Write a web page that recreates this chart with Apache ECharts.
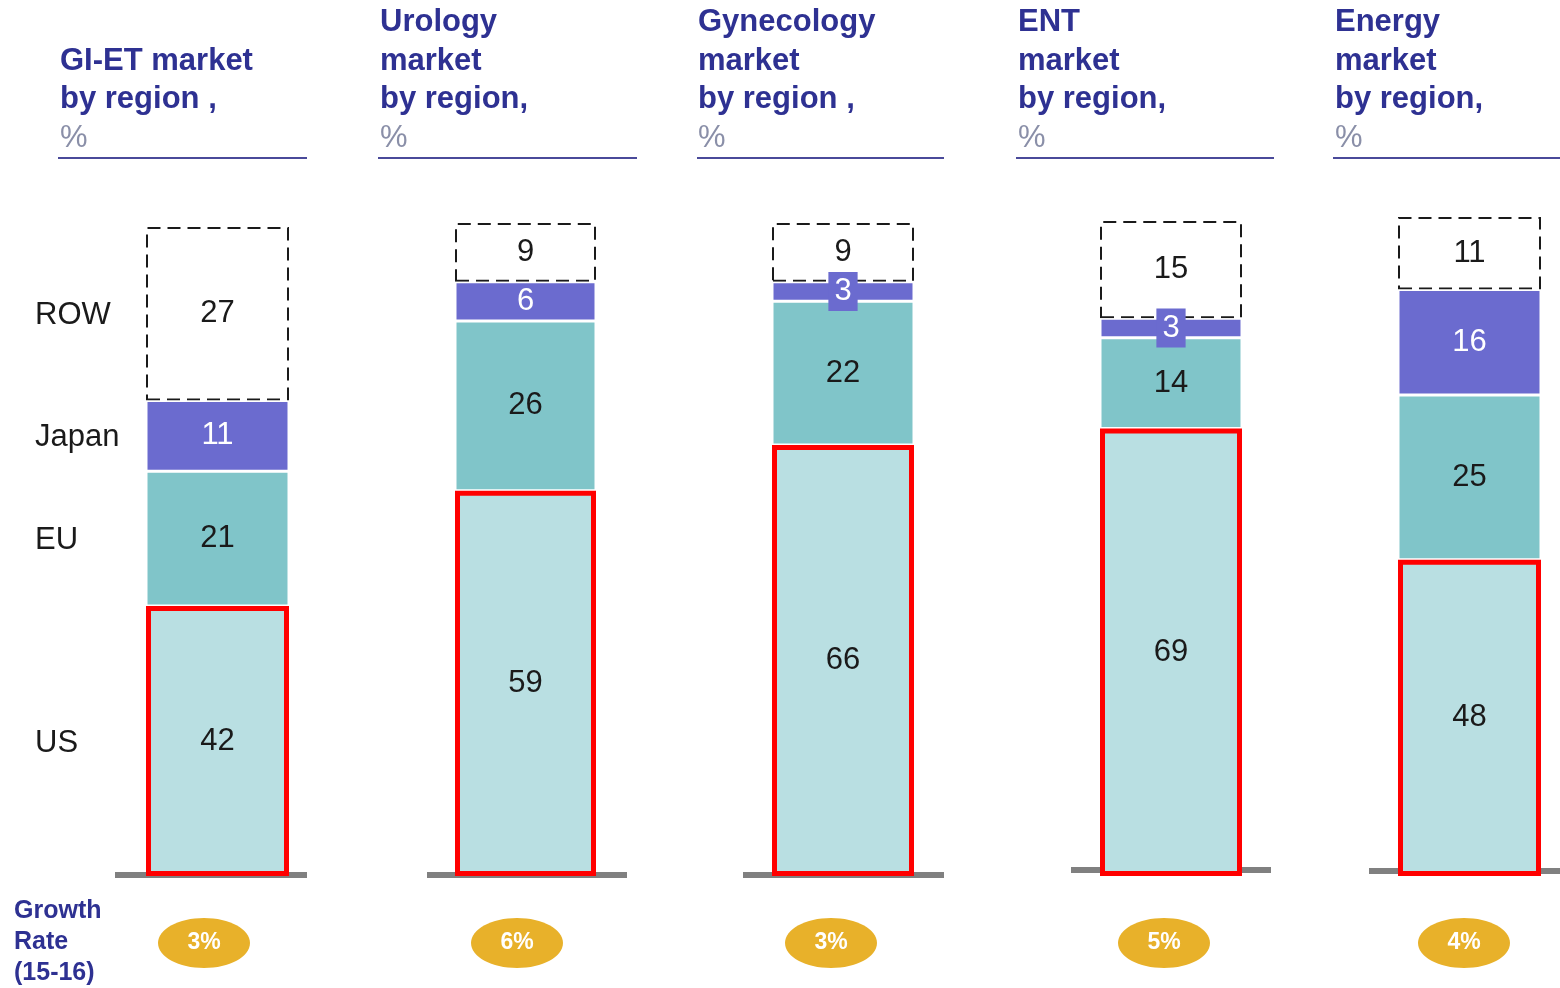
<!DOCTYPE html>
<html>
<head>
<meta charset="utf-8">
<script src="https://cdn.jsdelivr.net/npm/echarts@6/dist/echarts.min.js"></script>
<style>
  html, body { margin: 0; padding: 0; background: #ffffff; }
  #chart { width: 1560px; height: 988px; }
</style>
</head>
<body>
<div id="chart"></div>
<script>
// ---- data ----
const titles = [
  ['GI-ET market', 'by region ,'],
  ['Urology', 'market', 'by region,'],
  ['Gynecology', 'market', 'by region ,'],
  ['ENT', 'market', 'by region,'],
  ['Energy', 'market', 'by region,']
];
const regions = ['US', 'EU', 'Japan', 'ROW'];
const usShare    = [42, 59, 66, 69, 48];
const euShare    = [21, 26, 22, 14, 25];
const japanShare = [11,  6,  3,  3, 16];
const rowShare   = [27,  9,  9, 15, 11];
const growthRate = ['3%', '6%', '3%', '5%', '4%'];

// ---- layout (pixels) ----
const panelLayout = [
  { barLeft: 146, barRight: 289, top: 227, titleX: 60,   ruleX: [58, 307],   base: [115, 307, 875],  ellipseX: 204 },
  { barLeft: 455, barRight: 596, top: 223, titleX: 380,  ruleX: [378, 637],  base: [427, 627, 875],  ellipseX: 517 },
  { barLeft: 772, barRight: 914, top: 223, titleX: 698,  ruleX: [697, 944],  base: [743, 944, 875],  ellipseX: 831 },
  { barLeft: 1100, barRight: 1242, top: 221, titleX: 1018, ruleX: [1016, 1274], base: [1071, 1271, 870], ellipseX: 1164 },
  { barLeft: 1398, barRight: 1541, top: 217, titleX: 1335, ruleX: [1333, 1560], base: [1369, 1560, 871], ellipseX: 1464 }
];
const barBottom = 876;

const FONT = '"Liberation Sans", Arial, sans-serif';
const NAVY = '#2e3192';
const C_US = '#b9dfe2', C_EU = '#80c5c9', C_JP = '#6b6bcf';

const shares = [usShare, euShare, japanShare, rowShare];

const grids = [], xAxes = [], yAxes = [], series = [];
panelLayout.forEach((p, i) => {
  const total = usShare[i] + euShare[i] + japanShare[i] + rowShare[i];
  grids.push({ left: p.barLeft, width: p.barRight - p.barLeft, top: p.top, bottom: 988 - barBottom, containLabel: false });
  xAxes.push({ type: 'category', gridIndex: i, data: [titles[i][0]], show: false });
  yAxes.push({ type: 'value', gridIndex: i, min: 0, max: total, show: false });

  regions.forEach((r, k) => {
    const v = shares[k][i];
    const base = {
      name: r, type: 'bar', stack: 'p' + i, xAxisIndex: i, yAxisIndex: i,
      barWidth: '100%', barCategoryGap: 0, data: [v], silent: true,
      label: {
        show: true, position: 'inside', fontFamily: FONT, fontSize: 31, color: '#1a1a1a'
      }
    };
    if (r === 'US') {
      base.z = 4;
      base.itemStyle = { color: C_US, borderColor: '#ff0000', borderWidth: 5 };
    } else if (r === 'EU') {
      base.z = 3;
      base.itemStyle = { color: C_EU, borderColor: '#ffffff', borderWidth: 1.5 };
    } else if (r === 'Japan') {
      base.z = 3;
      base.itemStyle = { color: C_JP, borderColor: '#ffffff', borderWidth: 1.5 };
      base.label.color = '#ffffff';
      if (v < 5) {
        base.label.backgroundColor = C_JP;
        base.label.padding = [4, 6, 4, 6];
      }
    } else {
      base.z = 2;
      base.itemStyle = { color: '#ffffff', borderColor: '#1a1a1a', borderWidth: 2, borderType: [13, 7] };
    }
    series.push(base);
  });
});

const chart = echarts.init(document.getElementById('chart'), null, { renderer: 'canvas' });
chart.setOption({
  animation: false,
  backgroundColor: '#ffffff',
  grid: grids,
  xAxis: xAxes,
  yAxis: yAxes,
  series: series
});

// ---- annotations: titles, rules, baselines, region names, growth ellipses ----
const graphics = [];
panelLayout.forEach((p, i) => {
  const lines = titles[i].concat(['%']);
  const n = lines.length;
  lines.forEach((t, j) => {
    graphics.push({
      type: 'text', x: p.titleX, y: 138 - 38.5 * (n - 1 - j),
      style: {
        text: t, fontFamily: FONT, fontSize: 31, fontWeight: t === '%' ? 'normal' : 'bold',
        fill: t === '%' ? '#8a8fa8' : NAVY, verticalAlign: 'middle'
      }
    });
  });
  graphics.push({
    type: 'line', z: 1,
    shape: { x1: p.ruleX[0], y1: 158, x2: p.ruleX[1], y2: 158 },
    style: { stroke: '#4a4a9a', lineWidth: 2 }
  });
  graphics.push({
    type: 'rect', z: 0,
    shape: { x: p.base[0], y: p.base[2] - 3, width: p.base[1] - p.base[0], height: 6 },
    style: { fill: '#808080' }
  });
  graphics.push({
    type: 'ellipse', z: 1,
    shape: { cx: p.ellipseX, cy: 943, rx: 46, ry: 25 },
    style: { fill: '#e8b12a' }
  });
  graphics.push({
    type: 'text', z: 2, x: p.ellipseX, y: 943,
    style: {
      text: growthRate[i], fontFamily: FONT, fontSize: 23, fontWeight: 'bold', fill: '#ffffff',
      align: 'center', verticalAlign: 'middle'
    }
  });
});

// region names aligned with the segments of the first bar
let cum = 0;
regions.forEach((r, k) => {
  const v = shares[k][0];
  const mid = cum + v / 2;
  cum += v;
  const pt = chart.convertToPixel({ gridIndex: 0 }, [0, mid]);
  graphics.push({
    type: 'text', x: 35, y: pt[1] + 2,
    style: { text: r, fontFamily: FONT, fontSize: 31, fill: '#1a1a1a', verticalAlign: 'middle' }
  });
});

['Growth', 'Rate', '(15-16)'].forEach((t, j) => {
  graphics.push({
    type: 'text', x: 14, y: 911 + 31 * j,
    style: { text: t, fontFamily: FONT, fontSize: 25, fontWeight: 'bold', fill: NAVY, verticalAlign: 'middle' }
  });
});

chart.setOption({ graphic: graphics });
</script>
</body>
</html>
